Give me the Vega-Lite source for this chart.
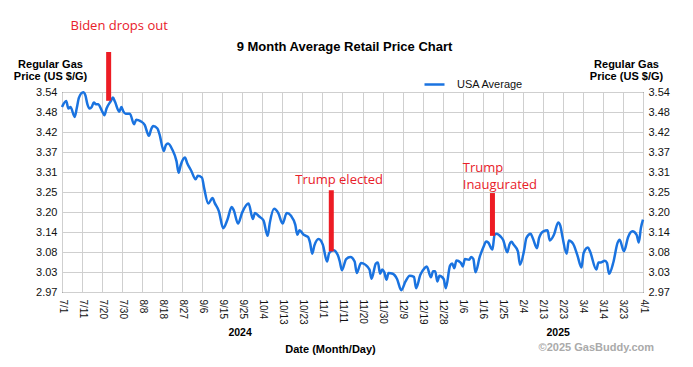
{
  "$schema": "https://vega.github.io/schema/vega-lite/v6.json",
  "autosize": {"type": "none"},
  "width": 581,
  "height": 200,
  "padding": {"left": 62, "top": 92, "right": 50, "bottom": 75},
  "background": "#ffffff",
  "title": {"text": "9 Month Average Retail Price Chart", "font": "Liberation Sans", "fontSize": 13, "fontWeight": "bold", "color": "#000", "anchor": "middle", "dx": -8, "dy": 38},
  "config": {
    "view": {"stroke": "#000", "strokeWidth": 1},
    "axis": {"labelFont": "Liberation Sans", "titleFont": "Liberation Sans", "labelColor": "#111", "titleColor": "#000", "gridColor": "#cfcfcf", "gridWidth": 1, "ticks": false, "domain": false, "labelFlush": false, "labelOverlap": false}
  },
  "datasets": {
    "prices": [
      {"date": "2024-07-01", "price": 3.497}, {"date": "2024-07-03", "price": 3.514}, {"date": "2024-07-04", "price": 3.493}, {"date": "2024-07-05", "price": 3.497},
      {"date": "2024-07-07", "price": 3.469}, {"date": "2024-07-08", "price": 3.495}, {"date": "2024-07-09", "price": 3.524}, {"date": "2024-07-11", "price": 3.539},
      {"date": "2024-07-12", "price": 3.531}, {"date": "2024-07-13", "price": 3.505}, {"date": "2024-07-14", "price": 3.493}, {"date": "2024-07-15", "price": 3.497},
      {"date": "2024-07-16", "price": 3.510}, {"date": "2024-07-17", "price": 3.505}, {"date": "2024-07-18", "price": 3.505}, {"date": "2024-07-20", "price": 3.484},
      {"date": "2024-07-21", "price": 3.474}, {"date": "2024-07-22", "price": 3.493}, {"date": "2024-07-24", "price": 3.514}, {"date": "2024-07-25", "price": 3.524},
      {"date": "2024-07-26", "price": 3.512}, {"date": "2024-07-28", "price": 3.484}, {"date": "2024-07-29", "price": 3.497}, {"date": "2024-07-30", "price": 3.484},
      {"date": "2024-07-31", "price": 3.478}, {"date": "2024-08-02", "price": 3.478}, {"date": "2024-08-04", "price": 3.448}, {"date": "2024-08-05", "price": 3.461},
      {"date": "2024-08-07", "price": 3.457}, {"date": "2024-08-09", "price": 3.446}, {"date": "2024-08-11", "price": 3.415}, {"date": "2024-08-12", "price": 3.433},
      {"date": "2024-08-13", "price": 3.443}, {"date": "2024-08-15", "price": 3.436}, {"date": "2024-08-16", "price": 3.419}, {"date": "2024-08-18", "price": 3.372},
      {"date": "2024-08-19", "price": 3.389}, {"date": "2024-08-20", "price": 3.393}, {"date": "2024-08-22", "price": 3.376}, {"date": "2024-08-24", "price": 3.343},
      {"date": "2024-08-25", "price": 3.310}, {"date": "2024-08-26", "price": 3.332}, {"date": "2024-08-28", "price": 3.353}, {"date": "2024-08-29", "price": 3.338},
      {"date": "2024-08-31", "price": 3.315}, {"date": "2024-09-02", "price": 3.291}, {"date": "2024-09-03", "price": 3.301}, {"date": "2024-09-05", "price": 3.296},
      {"date": "2024-09-06", "price": 3.267}, {"date": "2024-09-08", "price": 3.222}, {"date": "2024-09-10", "price": 3.238}, {"date": "2024-09-11", "price": 3.224},
      {"date": "2024-09-13", "price": 3.200}, {"date": "2024-09-15", "price": 3.152}, {"date": "2024-09-17", "price": 3.176}, {"date": "2024-09-19", "price": 3.212},
      {"date": "2024-09-20", "price": 3.203}, {"date": "2024-09-22", "price": 3.165}, {"date": "2024-09-24", "price": 3.197}, {"date": "2024-09-27", "price": 3.222},
      {"date": "2024-09-29", "price": 3.178}, {"date": "2024-09-30", "price": 3.195}, {"date": "2024-10-02", "price": 3.185}, {"date": "2024-10-04", "price": 3.174},
      {"date": "2024-10-06", "price": 3.130}, {"date": "2024-10-07", "price": 3.167}, {"date": "2024-10-09", "price": 3.207}, {"date": "2024-10-11", "price": 3.195},
      {"date": "2024-10-13", "price": 3.165}, {"date": "2024-10-15", "price": 3.195}, {"date": "2024-10-17", "price": 3.187}, {"date": "2024-10-19", "price": 3.162},
      {"date": "2024-10-20", "price": 3.133}, {"date": "2024-10-21", "price": 3.146}, {"date": "2024-10-23", "price": 3.133}, {"date": "2024-10-25", "price": 3.127},
      {"date": "2024-10-26", "price": 3.110}, {"date": "2024-10-27", "price": 3.079}, {"date": "2024-10-28", "price": 3.102}, {"date": "2024-10-30", "price": 3.121},
      {"date": "2024-11-01", "price": 3.105}, {"date": "2024-11-03", "price": 3.057}, {"date": "2024-11-04", "price": 3.081}, {"date": "2024-11-06", "price": 3.089},
      {"date": "2024-11-08", "price": 3.076}, {"date": "2024-11-09", "price": 3.057}, {"date": "2024-11-10", "price": 3.032}, {"date": "2024-11-12", "price": 3.064},
      {"date": "2024-11-14", "price": 3.070}, {"date": "2024-11-16", "price": 3.057}, {"date": "2024-11-17", "price": 3.024}, {"date": "2024-11-19", "price": 3.053},
      {"date": "2024-11-21", "price": 3.048}, {"date": "2024-11-23", "price": 3.034}, {"date": "2024-11-24", "price": 3.008}, {"date": "2024-11-26", "price": 3.051},
      {"date": "2024-11-27", "price": 3.054}, {"date": "2024-11-28", "price": 3.022}, {"date": "2024-11-29", "price": 3.034}, {"date": "2024-11-30", "price": 3.026},
      {"date": "2024-12-01", "price": 3.005}, {"date": "2024-12-02", "price": 3.024}, {"date": "2024-12-04", "price": 3.022}, {"date": "2024-12-06", "price": 3.007},
      {"date": "2024-12-08", "price": 2.975}, {"date": "2024-12-10", "price": 3.000}, {"date": "2024-12-12", "price": 3.016}, {"date": "2024-12-14", "price": 3.013},
      {"date": "2024-12-15", "price": 2.981}, {"date": "2024-12-17", "price": 3.019}, {"date": "2024-12-19", "price": 3.038}, {"date": "2024-12-20", "price": 3.043},
      {"date": "2024-12-22", "price": 3.012}, {"date": "2024-12-23", "price": 3.029}, {"date": "2024-12-24", "price": 3.029}, {"date": "2024-12-25", "price": 3.000},
      {"date": "2024-12-26", "price": 3.016}, {"date": "2024-12-28", "price": 3.007}, {"date": "2024-12-29", "price": 2.981}, {"date": "2024-12-31", "price": 3.045},
      {"date": "2025-01-01", "price": 3.051}, {"date": "2025-01-02", "price": 3.038}, {"date": "2025-01-03", "price": 3.060}, {"date": "2025-01-05", "price": 3.054},
      {"date": "2025-01-06", "price": 3.043}, {"date": "2025-01-07", "price": 3.064}, {"date": "2025-01-09", "price": 3.062}, {"date": "2025-01-10", "price": 3.070},
      {"date": "2025-01-11", "price": 3.064}, {"date": "2025-01-12", "price": 3.026}, {"date": "2025-01-14", "price": 3.070}, {"date": "2025-01-16", "price": 3.102},
      {"date": "2025-01-17", "price": 3.114}, {"date": "2025-01-18", "price": 3.111}, {"date": "2025-01-20", "price": 3.091}, {"date": "2025-01-21", "price": 3.133},
      {"date": "2025-01-22", "price": 3.136}, {"date": "2025-01-24", "price": 3.127}, {"date": "2025-01-25", "price": 3.119}, {"date": "2025-01-27", "price": 3.083},
      {"date": "2025-01-28", "price": 3.105}, {"date": "2025-01-29", "price": 3.113}, {"date": "2025-01-30", "price": 3.105}, {"date": "2025-02-01", "price": 3.086},
      {"date": "2025-02-02", "price": 3.048}, {"date": "2025-02-04", "price": 3.091}, {"date": "2025-02-05", "price": 3.124}, {"date": "2025-02-07", "price": 3.136},
      {"date": "2025-02-08", "price": 3.124}, {"date": "2025-02-10", "price": 3.095}, {"date": "2025-02-11", "price": 3.124}, {"date": "2025-02-13", "price": 3.143},
      {"date": "2025-02-15", "price": 3.146}, {"date": "2025-02-16", "price": 3.117}, {"date": "2025-02-18", "price": 3.133}, {"date": "2025-02-20", "price": 3.168},
      {"date": "2025-02-21", "price": 3.159}, {"date": "2025-02-22", "price": 3.128}, {"date": "2025-02-24", "price": 3.079}, {"date": "2025-02-25", "price": 3.117},
      {"date": "2025-02-27", "price": 3.108}, {"date": "2025-03-01", "price": 3.076}, {"date": "2025-03-03", "price": 3.040}, {"date": "2025-03-04", "price": 3.081},
      {"date": "2025-03-06", "price": 3.097}, {"date": "2025-03-07", "price": 3.086}, {"date": "2025-03-10", "price": 3.034}, {"date": "2025-03-11", "price": 3.054},
      {"date": "2025-03-12", "price": 3.054}, {"date": "2025-03-14", "price": 3.059}, {"date": "2025-03-15", "price": 3.053}, {"date": "2025-03-16", "price": 3.022},
      {"date": "2025-03-18", "price": 3.054}, {"date": "2025-03-20", "price": 3.110}, {"date": "2025-03-21", "price": 3.119}, {"date": "2025-03-23", "price": 3.086},
      {"date": "2025-03-25", "price": 3.127}, {"date": "2025-03-27", "price": 3.143}, {"date": "2025-03-29", "price": 3.133}, {"date": "2025-03-30", "price": 3.111},
      {"date": "2025-03-31", "price": 3.152}, {"date": "2025-04-01", "price": 3.176}
    ],
    "events": [
      {"date": "2024-07-23", "price": 3.515, "price2": 3.654},
      {"date": "2024-11-05", "price": 3.086, "price2": 3.260},
      {"date": "2025-01-20", "price": 3.130, "price2": 3.252}
    ],
    "notes": [
      {"date": "2024-07-05", "price": 3.718, "label": "Biden drops out"},
      {"date": "2024-10-19", "price": 3.279, "label": "Trump elected"},
      {"date": "2025-01-06", "price": 3.311, "label": "Trump"},
      {"date": "2025-01-06", "price": 3.264, "label": "Inaugurated"}
    ],
    "years": [
      {"date": "2024-09-23", "price": 2.8455, "label": "2024"},
      {"date": "2025-02-20", "price": 2.8455, "label": "2025"}
    ],
    "credit": [
      {"date": "2025-03-10", "price": 2.801, "label": "©2025 GasBuddy.com"}
    ]
  },
  "encoding": {
    "x": {
      "field": "date", "type": "temporal",
      "scale": {"type": "utc", "domain": [{"year": 2024, "month": 7, "date": 1, "utc": true}, {"year": 2025, "month": 4, "date": 1, "utc": true}], "nice": false},
      "axis": {
        "orient": "bottom",
        "values": [1719792000000, 1720608331034, 1721424662069, 1722240993103, 1723057324138, 1723873655172, 1724689986207, 1725506317241, 1726322648276, 1727138979310, 1727955310345, 1728771641379, 1729587972414, 1730404303448, 1731220634483, 1732036965517, 1732853296552, 1733669627586, 1734485958621, 1735302289655, 1736118620690, 1736934951724, 1737751282759, 1738567613793, 1739383944828, 1740200275862, 1741016606897, 1741832937931, 1742649268966, 1743465600000],
        "labelExpr": "['7/1','7/11','7/20','7/30','8/8','8/18','8/27','9/6','9/15','9/25','10/4','10/13','10/23','11/1','11/11','11/20','11/30','12/9','12/19','12/28','1/6','1/16','1/25','2/4','2/13','2/23','3/4','3/14','3/23','4/1'][round((toNumber(datum.value) - 1719792000000) / 816331034.48)]",
        "labelAngle": 90, "labelAlign": "left", "labelBaseline": "middle", "labelFontSize": 10, "labelPadding": 7,
        "grid": true,
        "title": "Date (Month/Day)", "titleFontSize": 11, "titleFontWeight": "bold", "titleX": 268, "titleY": 60, "titleAlign": "center", "titleBaseline": "alphabetic"
      }
    }
  },
  "resolve": {"axis": {"y": "independent"}},
  "layer": [
    {
      "data": {"name": "prices"},
      "mark": {"type": "line", "strokeWidth": 2.5, "interpolate": "monotone"},
      "encoding": {
        "y": {
          "field": "price", "type": "quantitative",
          "scale": {"domain": [2.97, 3.54], "nice": false, "zero": false},
          "axis": {
            "orient": "left",
            "values": [2.97, 3.027, 3.084, 3.141, 3.198, 3.255, 3.312, 3.369, 3.426, 3.483, 3.54],
            "labelExpr": "['2.97','3.03','3.08','3.14','3.20','3.25','3.31','3.37','3.42','3.48','3.54'][round((datum.value - 2.97) / 0.057)]",
            "labelFontSize": 11, "labelPadding": 5, "grid": true,
            "title": ["Regular Gas", "Price (US $/G)"], "titleAngle": 0, "titleFontSize": 11, "titleFontWeight": "bold", "titleX": -12, "titleY": -25, "titleAlign": "center", "titleBaseline": "alphabetic", "titleLineHeight": 12.5
          }
        },
        "color": {
          "datum": "USA Average", "type": "nominal",
          "scale": {"range": ["#1a73e0"]},
          "legend": {"title": null, "orient": "none", "legendX": 361, "legendY": -19, "symbolType": "stroke", "symbolSize": 400, "symbolStrokeWidth": 2.5, "labelFont": "Liberation Sans", "labelFontSize": 11, "labelColor": "#111", "labelOffset": 11, "padding": 0}
        }
      }
    },
    {
      "data": {"name": "events"},
      "mark": {"type": "rule", "strokeWidth": 5, "color": "#ed1c24"},
      "encoding": {
        "y": {
          "field": "price", "type": "quantitative",
          "axis": {
            "orient": "right",
            "values": [2.97, 3.027, 3.084, 3.141, 3.198, 3.255, 3.312, 3.369, 3.426, 3.483, 3.54],
            "labelExpr": "['2.97','3.03','3.08','3.14','3.20','3.25','3.31','3.37','3.42','3.48','3.54'][round((datum.value - 2.97) / 0.057)]",
            "labelFontSize": 11, "labelPadding": 5, "grid": false,
            "title": ["Regular Gas", "Price (US $/G)"], "titleAngle": 0, "titleFontSize": 11, "titleFontWeight": "bold", "titleX": -17, "titleY": -25, "titleAlign": "center", "titleBaseline": "alphabetic", "titleLineHeight": 12.5
          }
        },
        "y2": {"field": "price2"}
      }
    },
    {
      "data": {"name": "notes"},
      "mark": {"type": "text", "align": "left", "baseline": "alphabetic", "font": "Open Sans", "fontSize": 13, "color": "#e8202a"},
      "encoding": {
        "y": {"field": "price", "type": "quantitative", "axis": null},
        "text": {"field": "label"}
      }
    },
    {
      "data": {"name": "years"},
      "mark": {"type": "text", "align": "center", "baseline": "alphabetic", "font": "Liberation Sans", "fontSize": 10.5, "fontWeight": "bold", "color": "#000"},
      "encoding": {
        "y": {"field": "price", "type": "quantitative", "axis": null},
        "text": {"field": "label"}
      }
    },
    {
      "data": {"name": "credit"},
      "mark": {"type": "text", "align": "center", "baseline": "alphabetic", "font": "Liberation Sans", "fontSize": 11, "fontWeight": "bold", "color": "#aaaaaa"},
      "encoding": {
        "y": {"field": "price", "type": "quantitative", "axis": null},
        "text": {"field": "label"}
      }
    }
  ]
}
